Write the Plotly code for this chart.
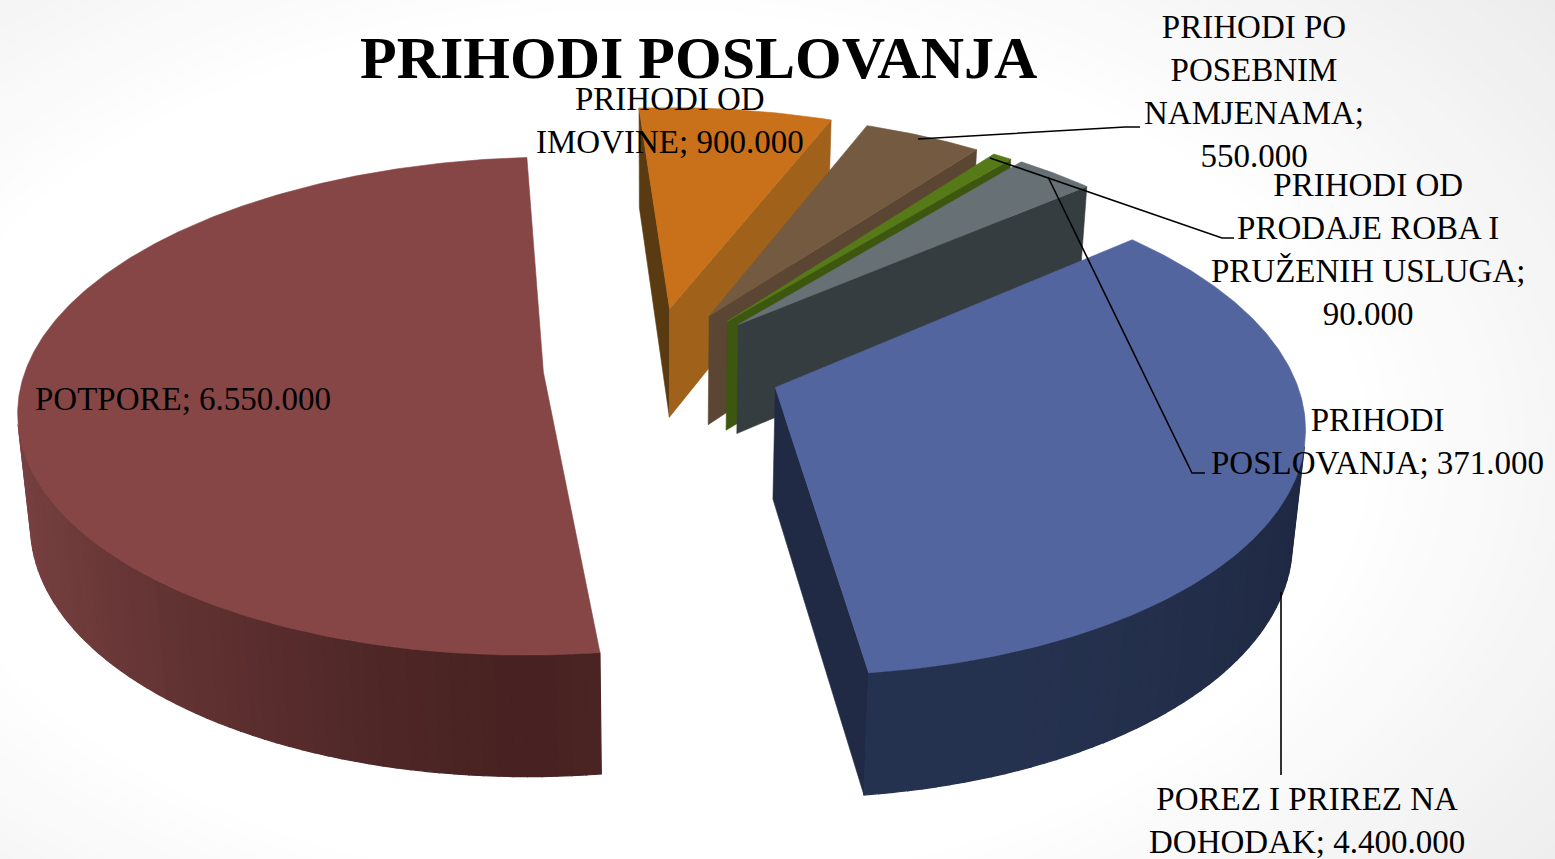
import numpy as np
import plotly.graph_objects as go

# ---------- data ----------
categories = ["PRIHODI OD IMOVINE", "PRIHODI PO POSEBNIM NAMJENAMA",
              "PRIHODI OD PRODAJE ROBA I PRUŽENIH USLUGA", "PRIHODI POSLOVANJA",
              "POREZ I PRIREZ NA DOHODAK", "POTPORE"]
values = [900000, 550000, 90000, 371000, 4400000, 6550000]
top_colors = ["#c8711a", "#735a40", "#567a17", "#677175", "#53659f", "#874646"]
wall_start = ["#5a3a10", "#5a4632", "#3d5710", "#363d40", "#202a44", "#4a2323"]
wall_end = ["#a0611a", "#5a4632", "#3d5710", "#363d40", "#202a44", "#4a2323"]
arc_dark = ["#8f5a18", "#4f3e2c", "#3d5710", "#3c464b", "#1f2943", "#482222"]
arc_light = ["#8f5a18", "#4f3e2c", "#3d5710", "#3c464b", "#263350", "#7a4242"]
nudge_x = [-0.014, -0.012, -0.006, -0.004, 0.008, 0.006]
nudge_y = [0.020, 0.015, 0.012, 0.015, 0.0, 0.0]

# ---------- projection (style) ----------
X0, Y0, A, B, C, P, Q = 659.0, 367.0, 517.0, 243.0, 113.0, 0.135, 0.02
START_DEG, EXPLODE = -3.8, 0.23


def project(x, y, z):
    w = 1 + P * y - Q * z
    return X0 + A * x / w, Y0 - (B * y + C * z) / w


def area(pts):
    s = 0.0
    for i in range(len(pts)):
        a, b = pts[i], pts[(i + 1) % len(pts)]
        s += a[0] * b[1] - b[0] * a[1]
    return s / 2


def hexrgb(h):
    return np.array([int(h[i:i + 2], 16) for i in (1, 3, 5)], float)


fig = go.Figure()


def poly(pts, color, lw=0.6):
    xs = [p[0] for p in pts] + [pts[0][0]]
    ys = [p[1] for p in pts] + [pts[0][1]]
    fig.add_trace(go.Scatter(x=xs, y=ys, mode="lines", fill="toself", fillcolor=color,
                             line=dict(color=color, width=lw), hoverinfo="skip",
                             showlegend=False))


total = sum(values)
angle = START_DEG
for i, v in enumerate(values):
    sweep = 360.0 * v / total
    a0, a1 = np.radians(angle), np.radians(angle + sweep)
    mid = (a0 + a1) / 2
    angle += sweep
    ox = EXPLODE * np.sin(mid) + nudge_x[i]
    oy = EXPLODE * np.cos(mid) + nudge_y[i]
    th = np.linspace(a0, a1, max(6, int(sweep * 0.7)))
    fine = np.linspace(a0, a1, max(12, int(sweep * 2)))
    px = ox + np.sin(th)
    py = oy + np.cos(th)
    # radial walls
    for (x0, y0, x1, y1, col) in [(ox, oy, px[0], py[0], wall_start[i]),
                                  (px[-1], py[-1], ox, oy, wall_end[i])]:
        q = [project(x0, y0, 0), project(x1, y1, 0), project(x1, y1, -1), project(x0, y0, -1)]
        if area(q) < 0:
            poly(q, col)
    # outer wall, shaded strip by strip
    d, l = hexrgb(arc_dark[i]), hexrgb(arc_light[i])
    for k in range(len(th) - 1):
        q = [project(px[k], py[k], 0), project(px[k + 1], py[k + 1], 0),
             project(px[k + 1], py[k + 1], -1), project(px[k], py[k], -1)]
        if area(q) < 0:
            t = np.clip(abs(np.sin((th[k] + th[k + 1]) / 2)) ** 1.3, 0, 1)
            if i == 4:
                t = np.clip(np.cos((th[k] - np.radians(171)) * 1.2), 0, 1) ** 2
            c = d + (l - d) * t
            poly(q, "rgb(%d,%d,%d)" % tuple(c), lw=1.2)
    # top face
    top = [project(ox, oy, 0)] + [project(ox + np.sin(t), oy + np.cos(t), 0) for t in fine]
    poly(top, top_colors[i])

# leader lines
leaders = [([918, 1125, 1140], [139, 127, 127]),
           ([990, 1222, 1234], [158, 238, 238]),
           ([1048, 1192, 1205], [177, 473, 473]),
           ([1281, 1281], [592, 775])]
for lx, ly in leaders:
    fig.add_trace(go.Scatter(x=lx, y=ly, mode="lines", line=dict(color="#000000", width=1.6),
                             hoverinfo="skip", showlegend=False))

# labels
FONT = "Liberation Serif"
labels = [(670, 120, "PRIHODI OD<br>IMOVINE; 900.000"),
          (1254, 91, "PRIHODI PO<br>POSEBNIM<br>NAMJENAMA;<br>550.000"),
          (1368, 249, "PRIHODI OD<br>PRODAJE ROBA I<br>PRUŽENIH USLUGA;<br>90.000"),
          (1377, 441, "PRIHODI<br>POSLOVANJA; 371.000"),
          (183, 399, "POTPORE; 6.550.000"),
          (1307, 820, "POREZ I PRIREZ NA<br>DOHODAK; 4.400.000")]
anns = [dict(x=x, y=y, text=t, showarrow=False, xanchor="center", yanchor="middle",
             font=dict(family=FONT, size=33, color="#000000"), align="center")
        for x, y, t in labels]
anns.append(dict(x=698, y=58, text="<b>PRIHODI POSLOVANJA</b>", showarrow=False,
                 xanchor="center", yanchor="middle",
                 font=dict(family=FONT, size=60, color="#000000")))

# soft vignette: nested ellipses from page edge to white centre
shapes = []
steps = 24
for s in range(steps):
    f = s / (steps - 1)
    g = int(236 + (255 - 236) * f)
    rx, ry = 1180 - 450 * f, 760 - 320 * f
    shapes.append(dict(type="circle", xref="x", yref="y", layer="below",
                       x0=640 - rx, x1=640 + rx, y0=450 - ry, y1=450 + ry,
                       fillcolor="rgb(%d,%d,%d)" % (g, g, g), line=dict(width=0)))

fig.update_layout(width=1555, height=859, margin=dict(l=0, r=0, t=0, b=0),
                  paper_bgcolor="#ececec", plot_bgcolor="rgba(0,0,0,0)",
                  xaxis=dict(range=[0, 1555], visible=False, fixedrange=True),
                  yaxis=dict(range=[859, 0], visible=False, fixedrange=True),
                  annotations=anns, shapes=shapes, showlegend=False)
fig.write_html("out.html", config=dict(displayModeBar=False),
               post_script="document.body.style.margin='0';document.body.style.overflow='hidden';")
